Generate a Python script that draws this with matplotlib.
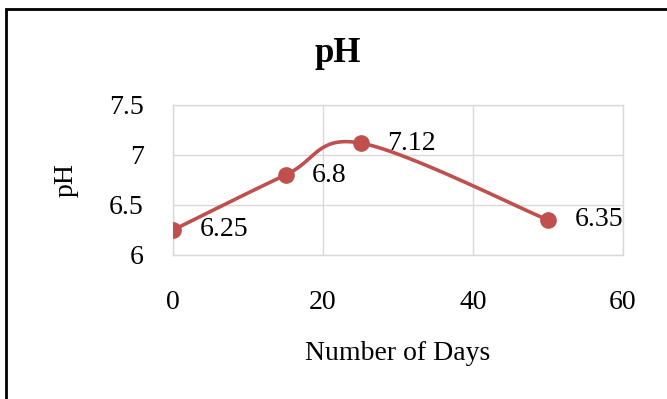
import numpy as np
import matplotlib
matplotlib.use("Agg")
import matplotlib.pyplot as plt
import matplotlib.patches as patches

# data
days = [0, 15, 25, 50]
ph = [6.25, 6.8, 7.12, 6.35]
x_ticks = [0, 20, 40, 60]
y_ticks = [6, 6.5, 7, 7.5]
y_tick_labels = ["6", "6.5", "7", "7.5"]

plt.rcParams["font.family"] = ["Liberation Serif", "DejaVu Serif"]
red = "#C0504D"


def smooth_line(xs, ys, n=40):
    # Excel-style smoothed line: Catmull-Rom bezier through the points
    p = np.column_stack([xs, ys]).astype(float)
    p = np.vstack([p[0], p, p[-1]])
    out = []
    t = np.linspace(0, 1, n)[:, None]
    for i in range(1, len(p) - 2):
        p0, p1, p2, p3 = p[i - 1], p[i], p[i + 1], p[i + 2]
        c1 = p1 + (p2 - p0) / 6
        c2 = p2 - (p3 - p1) / 6
        seg = ((1 - t) ** 3) * p1 + 3 * ((1 - t) ** 2) * t * c1 + 3 * (1 - t) * t ** 2 * c2 + t ** 3 * p2
        out.append(seg)
    out = np.vstack(out)
    return out[:, 0], out[:, 1]


fig = plt.figure(figsize=(6.67, 3.99), dpi=100)
ax = fig.add_axes([173 / 667, 1 - 255 / 399, 450 / 667, 150 / 399])

sx, sy = smooth_line(days, ph)
ax.plot(sx, sy, color=red, lw=2.6, solid_capstyle="round", zorder=3)
ax.plot(days, ph, "o", color=red, ms=11, zorder=4)

for d, v in zip(days, ph):
    ax.annotate(f"{v:g}", (d, v), xytext=(19, 0), textcoords="offset points",
                va="center", ha="left", fontsize=20, color="black", zorder=5)

ax.set_xlim(0, 60)
ax.set_ylim(6, 7.5)
ax.set_xticks(x_ticks)
ax.set_yticks(y_ticks)
ax.set_yticklabels(y_tick_labels)
ax.grid(True, color="#D9D9D9", lw=1)
ax.set_axisbelow(True)
for s in ax.spines.values():
    s.set_color("#D9D9D9")
    s.set_linewidth(1)
ax.tick_params(axis="both", length=0, labelsize=20)
ax.tick_params(axis="x", pad=25)
ax.tick_params(axis="y", pad=21)

ax.set_xlabel("Number of Days", fontsize=20, labelpad=19)
ax.set_ylabel("pH", fontsize=20, labelpad=22)

fig.text(338 / 667, 1 - 53 / 399, "pH", fontsize=25, fontweight="bold",
         ha="center", va="center")

# outer chart frame (right and bottom run off the image)
frame = patches.Rectangle((6 / 667, -0.2), 1.2, 1 - 9 / 399 + 0.2,
                          transform=fig.transFigure, fill=False,
                          edgecolor="black", lw=2, clip_on=False)
fig.patches.append(frame)

fig.savefig("out.png", dpi=100)
